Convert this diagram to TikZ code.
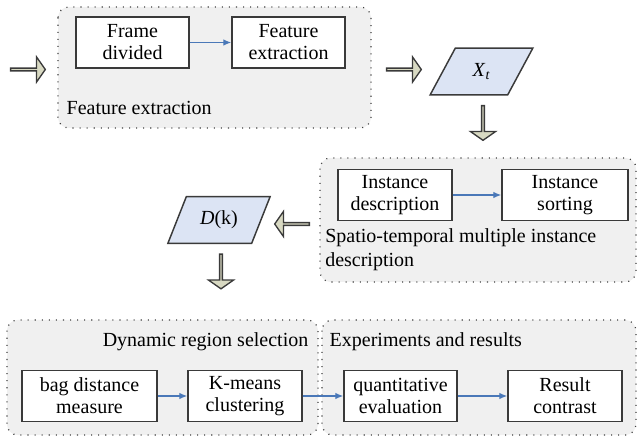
\documentclass[tikz,border=0pt]{standalone}
\usepackage{fontspec}
\setmainfont{Liberation Serif}
\newfontfamily\diagfont{Liberation Serif}
\usetikzlibrary{arrows.meta, shapes.geometric, shapes.arrows}

\definecolor{boxline}{HTML}{3A3A3A}
\definecolor{flowblue}{HTML}{4A78B8}
\definecolor{groupfill}{HTML}{F0F0F0}
\definecolor{parafill}{HTML}{DCE4F4}
\definecolor{bigarrow}{HTML}{D8D9C2}

\begin{document}
\begin{tikzpicture}[x=0.75pt, y=-0.75pt,
  every node/.style={font=\diagfont\fontsize{15}{16.5}\selectfont},
  stagebox/.style={draw=boxline, line width=1.1pt, fill=white, align=center, minimum height=38pt, inner sep=1pt},
  group/.style={draw=gray!50!black, fill=groupfill, line width=0.9pt, dash pattern=on 0.8pt off 4.5pt, rounded corners=8pt},
  flow/.style={-{Latex[length=6pt, width=5pt]}, flowblue, line width=1pt},
  datapara/.style={draw=boxline, line width=1.1pt, fill=parafill, trapezium, trapezium stretches=true, minimum width=77pt, minimum height=35pt},
  fatarrow/.style={single arrow, draw=boxline, line width=1pt, fill=bigarrow, minimum height=26pt, minimum width=18.75pt, single arrow head extend=4pt, single arrow tip angle=110, inner sep=0pt}
]
\useasboundingbox (0,0) rectangle (639,445);

% Feature extraction group
\draw[group] (58,7) rectangle (371,128);
\node[stagebox, minimum width=84.75pt] (frame) at (132.5,42.5) {Frame\\divided};
\node[stagebox, minimum width=84.75pt] (featx) at (288.5,42.5) {Feature\\extraction};
\node[anchor=west] (featlbl) at (62,108) {Feature extraction};
\draw[flow] (frame) -- (featx);

% Input and output arrows
\node[fatarrow] (inarrow) at (27.5,69.5) {};
\node[fatarrow] (outarrow) at (403.5,69.5) {};

% Feature data X_t
\node[datapara, trapezium left angle=63, trapezium right angle=117] (xt) at (481.5,71.5) {\textit{X}\textsubscript{\textit{t}}};
\node[fatarrow, rotate=-90] (down1) at (483,122.5) {};

% Spatio-temporal multiple instance group
\draw[group] (320,158) rectangle (636,282);
\node[stagebox, minimum width=85.5pt] (instdesc) at (395,195) {Instance\\description};
\node[stagebox, minimum width=94.5pt] (instsort) at (565,195) {Instance\\sorting};
\node[anchor=north west, align=left, inner sep=0pt, font=\diagfont\fontsize{15}{18}\selectfont] (instlbl) at (325,228) {Spatio-temporal multiple instance\\description};
\draw[flow] (instdesc) -- (instsort);

% Distance data D(k)
\node[fatarrow, rotate=180] (leftarrow) at (292.5,224) {};
\node[datapara, trapezium left angle=64, trapezium right angle=116] (dk) at (219,220) {\textit{D}(k)};
\node[fatarrow, rotate=-90] (down2) at (221,271) {};

% Dynamic region selection group
\draw[group] (7,320) rectangle (318,435);
\node[anchor=east] (dynlbl) at (313,342) {Dynamic region selection};
\node[stagebox, minimum width=101.25pt] (bagdist) at (89.5,396) {bag distance\\measure};
\node[stagebox, minimum width=85.5pt] (kmeans) at (245,396) {K-means\\clustering};

% Experiments and results group
\draw[group] (322,320) rectangle (636,435);
\node[anchor=west] (explbl) at (325,342) {Experiments and results};
\node[stagebox, minimum width=84.75pt] (quant) at (400.5,396) {quantitative\\evaluation};
\node[stagebox, minimum width=85.5pt] (result) at (565,396) {Result\\contrast};

\draw[flow] (bagdist) -- (kmeans);
\draw[flow] (kmeans) -- (quant);
\draw[flow] (quant) -- (result);

\end{tikzpicture}
\end{document}
